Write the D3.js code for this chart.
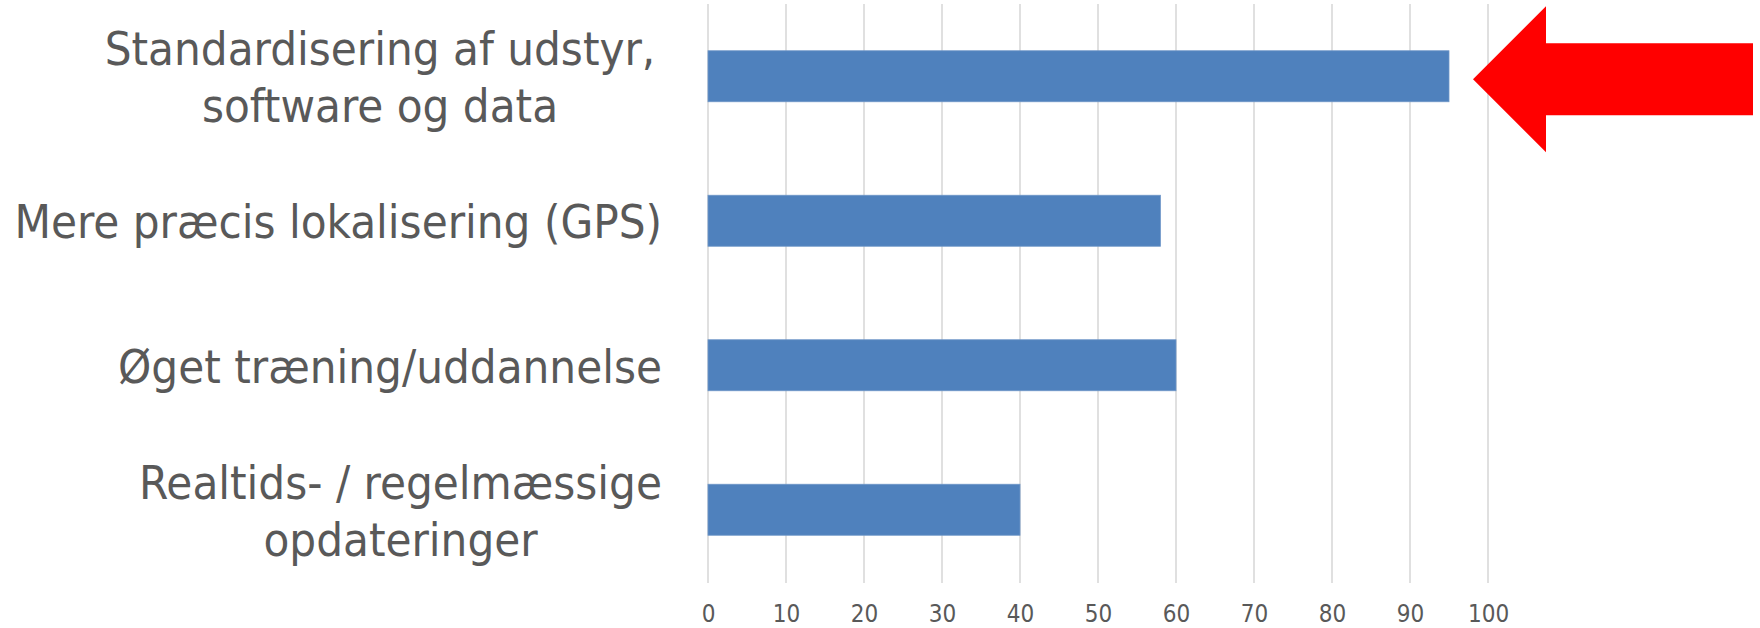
<!DOCTYPE html>
<html>
<head>
<meta charset="utf-8">
<script src="https://cdn.jsdelivr.net/npm/d3@7"></script>
<style>
  html, body { margin: 0; padding: 0; background: #fff; }
  svg { display: block; }
  text { font-family: "DejaVu Sans Condensed", "DejaVu Sans", sans-serif; fill: #595959; }
</style>
</head>
<body>
<svg id="chart" width="1760" height="628"></svg>
<script>
const categories = [
  ["Standardisering af udstyr, ", "software og data"],
  ["Mere præcis lokalisering (GPS)"],
  ["Øget træning/uddannelse"],
  ["Realtids- / regelmæssige", "opdateringer"]
];
const values = [95, 58, 60, 40];
const tickValues = [0, 10, 20, 30, 40, 50, 60, 70, 80, 90, 100];
const highlightIndex = 0;

const svg = d3.select("#chart");
const plot = { left: 708, right: 1488, top: 4, bottom: 582 };

const x = d3.scaleLinear().domain([0, 100]).range([plot.left, plot.right]);
const y = d3.scaleBand().domain(d3.range(categories.length))
  .range([plot.top, plot.bottom]).paddingInner(0.647).paddingOuter(0.3235);

// gridlines
svg.append("g").selectAll("line").data(tickValues).join("line")
  .attr("x1", d => x(d)).attr("x2", d => x(d))
  .attr("y1", plot.top).attr("y2", plot.bottom + 1)
  .attr("stroke", "#d9d9d9").attr("stroke-width", 1.6);

// bars
svg.append("g").selectAll("rect").data(values).join("rect")
  .attr("x", x(0))
  .attr("y", (d, i) => y(i))
  .attr("width", d => x(d) - x(0))
  .attr("height", y.bandwidth())
  .attr("fill", "#4f81bd")
  .attr("stroke", "#6f97c8").attr("stroke-width", 0.8);

// x axis tick labels
const xAxis = d3.axisBottom(x).tickValues(tickValues).tickSize(0).tickPadding(0);
const gx = svg.append("g").attr("transform", `translate(0, 605)`).call(xAxis);
gx.select(".domain").remove();
gx.selectAll("text").attr("font-size", 24).style("font-family", '"DejaVu Sans Condensed", "DejaVu Sans", sans-serif')
  .attr("fill", "#595959").attr("dy", "0.71em");

// category labels: block right-aligned, lines centred within block
const labelRight = 662, fs = 47, lineH = 57;
const gl = svg.append("g");
const probe = gl.append("text").attr("font-size", fs).style("white-space", "pre").text("a a");
const probe2 = gl.append("text").attr("font-size", fs).text("aa");
const spaceW = probe.node().getComputedTextLength() - probe2.node().getComputedTextLength();
probe.remove(); probe2.remove();

categories.forEach((lines, i) => {
  const cy = y(i) + y.bandwidth() / 2;
  const g = gl.append("g");
  const items = lines.map((ln, j) => {
    const t = g.append("text")
      .attr("font-size", fs)
      .attr("text-anchor", "middle")
      .attr("y", cy + 17.5 + (j - (lines.length - 1) / 2) * lineH)
      .text(ln.trim());
    const w = t.node().getComputedTextLength() + (/\s$/.test(ln) ? spaceW : 0);
    return { t, w };
  });
  const maxW = d3.max(items, d => d.w);
  items.forEach(d => d.t.attr("x", labelRight - maxW / 2));
});

// red arrow pointing at highlighted bar
const ac = y(highlightIndex) + y.bandwidth() / 2 + 3;
const tipX = x(values[highlightIndex]) + 24;
const headW = 73, headH = 73, shaftH = 36, endX = 1753;
const pts = [
  [tipX, ac],
  [tipX + headW, ac - headH],
  [tipX + headW, ac - shaftH],
  [endX, ac - shaftH],
  [endX, ac + shaftH],
  [tipX + headW, ac + shaftH],
  [tipX + headW, ac + headH]
];
svg.append("path").attr("d", d3.line()(pts) + "Z").attr("fill", "#ff0000");
</script>
</body>
</html>
